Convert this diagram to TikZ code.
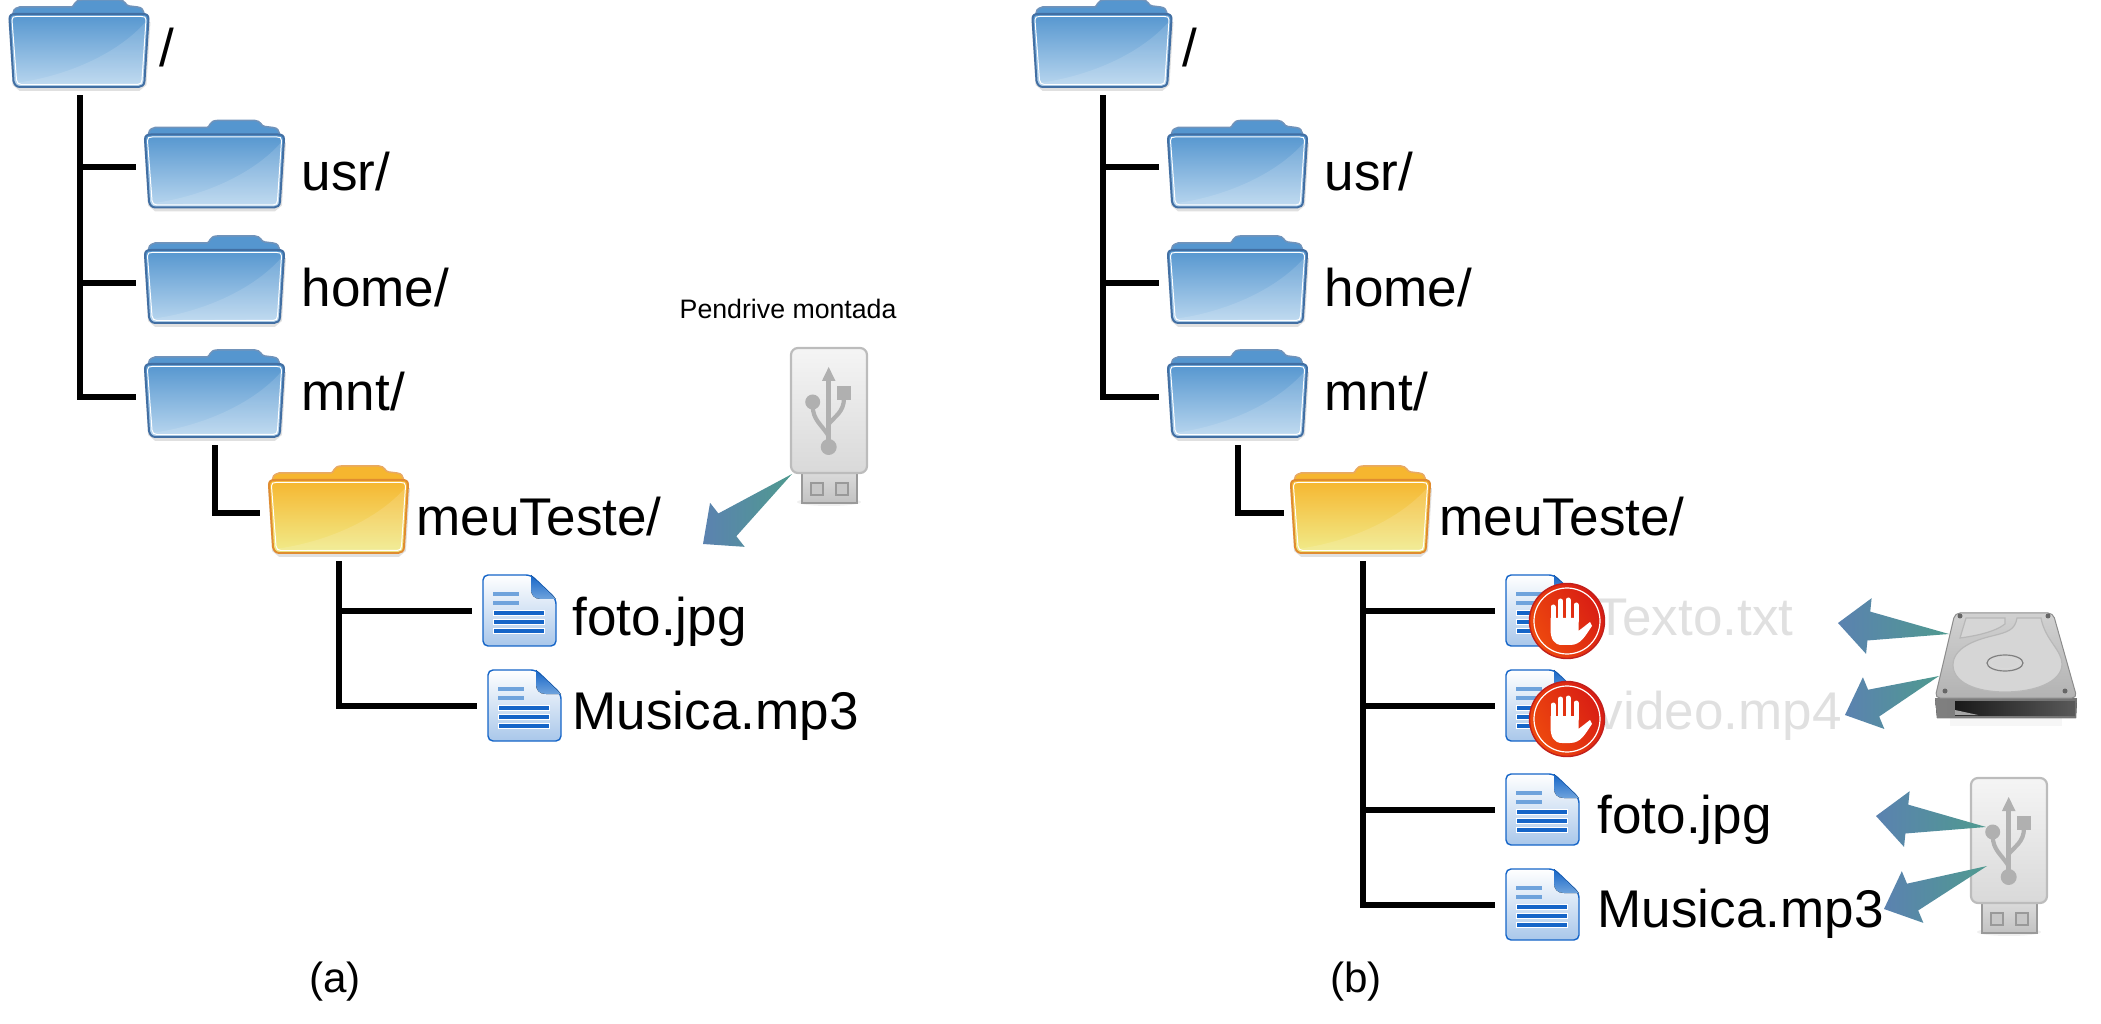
\documentclass[tikz,border=0pt]{standalone}
\usepackage{fontspec}
\usepackage{tikz}
\usepackage{color}
\usetikzlibrary{arrows}
\usetikzlibrary{calc}
\setmainfont{Liberation Sans}

\definecolor{blueedge}{HTML}{426FA3}
\definecolor{bluetop}{HTML}{5596CF}
\definecolor{bluebot}{HTML}{BAD7EF}
\definecolor{yellowedge}{HTML}{E08C30}
\definecolor{yellowtop}{HTML}{F6B62F}
\definecolor{yellowbot}{HTML}{F0EC8C}
\definecolor{fileblue}{HTML}{1565C8}
\definecolor{filepale}{HTML}{6FA3DC}
\definecolor{filebot}{HTML}{A9C7EA}
\definecolor{arrowtip}{HTML}{5B82B0}
\definecolor{arrowtail}{HTML}{4F9A8F}
\definecolor{usbgray}{HTML}{B0B0B0}
\definecolor{fadedtext}{HTML}{E0E0E0}
\definecolor{stopedge}{HTML}{C2201C}
\definecolor{stoplight}{HTML}{EE4A0E}
\definecolor{stopdark}{HTML}{D81C14}

\newcommand{\drawfolder}[3]{
	\begin{scope}[shift={(-70,-47)}]
		\draw [draw=#1!75!white, line width=0.15mm, fill=#2] (3,18) .. controls (4,9) .. (10,7) -- (62,7) .. controls (65,7) and (64,0) .. (72,0) -- (110,0) .. controls (116,0) and (116,6) .. (120,6) -- (128,7) .. controls (133,8) .. (136,18) -- cycle;
		\draw [black!12, line width=0.4mm] (1,22) -- (5,84) -- (11,89) -- (129,89) -- (135,84) -- (139,22);
		\draw [draw=#1, line width=0.2mm, top color=#2, bottom color=#3] (0,19) .. controls (0,15) and (2,14) .. (6,14) -- (133,14) .. controls (137,14) and (139,15) .. (139,19) -- (135,81) .. controls (135,85) and (132,87) .. (129,87) -- (11,87) .. controls (7,87) and (5,85) .. (4,81) -- cycle;
		\fill [white, opacity=0.13] (6,83) .. controls (60,76) and (110,52) .. (136,22) -- (133,84) -- cycle;
		\draw [white, line width=0.1mm] (2.5,20) .. controls (2.5,17) and (4,16.5) .. (7,16.5) -- (132,16.5) .. controls (135,16.5) and (136.5,17) .. (136.5,20) -- (132.5,80) .. controls (132.5,83) and (131,84.5) .. (128,84.5) -- (12,84.5) .. controls (9,84.5) and (7.5,83) .. (7,80) -- cycle;
	\end{scope}
}

\tikzset{
	foldersp/.style={inner sep=0pt, outer sep=0pt, minimum width=15.8mm, minimum height=9.7mm},
	filesp/.style={inner sep=0pt, outer sep=0pt, minimum width=9.2mm, minimum height=7.2mm},
	treeline/.style={line width=0.6mm, draw=black},
	bigtext/.style={anchor=base west, inner sep=0pt, font=\fontsize{15.1}{18}\selectfont},
	captext/.style={anchor=base, inner sep=0pt, font=\fontsize{12}{14}\selectfont},
	smalltext/.style={anchor=base west, inner sep=0pt, font=\fontsize{7.6}{9}\selectfont},
	fatarrow/.style={left color=arrowtip, right color=arrowtail, draw=none},
	bluefolder/.pic={\drawfolder{blueedge}{bluetop}{bluebot}},
	yellowfolder/.pic={\drawfolder{yellowedge}{yellowtop}{yellowbot}},
	fileicon/.pic={
		\begin{scope}[shift={(-35,-36)}]
			\draw [draw=fileblue, line width=0.14mm, top color=white, bottom color=filebot, rounded corners=0.5mm] (0,0) -- (48,0) -- (73,24) -- (73,71) -- (0,71) -- cycle;
			\fill [top color=fileblue, bottom color=filepale] (48,0) -- (73,24) -- (58,24) .. controls (51,24) and (48,20) .. (48,14) -- cycle;
			\foreach \ly in {19,28}
				\fill [filepale] (10,\ly-2.2) rectangle (36,\ly+2.2);
			\foreach \ly in {38,47,56}
				\draw [white, line width=0.06mm, fill=fileblue] (10,\ly-2.6) rectangle (61,\ly+2.6);
		\end{scope}
	},
	stopicon/.pic={
		\fill [draw=stopedge, line width=0.14mm, left color=stoplight, right color=stopdark, shading angle=120] (0,0) circle (37.5);
		\draw [white, line width=0.12mm] (0,0) circle (33);
		\draw [white, line width=0.5mm, line cap=round] (-14,0) -- (-14,-14);
		\draw [white, line width=0.5mm, line cap=round] (-6.5,0) -- (-6.5,-20);
		\draw [white, line width=0.5mm, line cap=round] (1,0) -- (1,-21);
		\draw [white, line width=0.5mm, line cap=round] (9,0) -- (9,-16);
		\fill [white] (-16.5,-3) -- (11.5,-3) -- (11.5,10) -- (23,1) -- (25,5) .. controls (18,15) and (14,24) .. (3,24) -- (-5,24) .. controls (-13,24) and (-16.5,18) .. (-16.5,8) -- cycle;
	},
	usbicon/.pic={
		\fill [black!10, opacity=0.6] (38,154) ellipse (32 and 4);
		\draw [draw=black!40, line width=0.22mm, top color=black!14, bottom color=black!24] (11,124) rectangle (66,155);
		\draw [draw=black!40, line width=0.18mm, fill=black!22] (20,135) rectangle (32,147);
		\draw [draw=black!40, line width=0.18mm, fill=black!22] (45,135) rectangle (57,147);
		\draw [draw=usbgray!85!white, line width=0.22mm, top color=black!4, bottom color=black!15, rounded corners=0.7mm] (0,0) rectangle (76,125);
		\draw [usbgray, line width=0.45mm] (37.7,30) -- (37.7,95);
		\fill [usbgray] (37.7,19) -- (44.5,33) -- (30.9,33) -- cycle;
		\fill [usbgray] (37.7,99) circle (8);
		\fill [usbgray] (21.7,54) circle (7.5);
		\fill [usbgray] (46,38) rectangle (60,52);
		\draw [usbgray, line width=0.42mm] (21.7,58) .. controls (22,72) and (30,76) .. (37.7,88);
		\draw [usbgray, line width=0.42mm] (53,50) .. controls (53,64) and (44,68) .. (37.7,76);
	}
}

\newcommand{\drawarrow}[2]{
	\path [fatarrow] (#1) -- ($(#2)!3.1mm!(#1)!1.45mm!90:(#1)$) -- ($(#2)!3.1mm!(#1)!2.8mm!90:(#1)$) -- (#2) -- ($(#2)!3.1mm!(#1)!2.8mm!-90:(#1)$) -- ($(#2)!3.1mm!(#1)!1.45mm!-90:(#1)$) -- cycle;
}

\begin{document}
\begin{tikzpicture}[x=0.1mm,y=-0.1mm]
	\useasboundingbox (0,0) rectangle (2101,1024);

	% left tree
	\node [foldersp] (rootA) at (79.5,47) {};
	\node [foldersp] (usrA) at (215,167.5) {};
	\node [foldersp] (homeA) at (215,283) {};
	\node [foldersp] (mntA) at (215,397) {};
	\node [foldersp] (testeA) at (339,513) {};
	\node [filesp] (fotoA) at (518,611) {};
	\node [filesp] (musicaA) at (523,706) {};

	\pic at (rootA) {bluefolder};
	\pic at (usrA) {bluefolder};
	\pic at (homeA) {bluefolder};
	\pic at (mntA) {bluefolder};
	\pic at (testeA) {yellowfolder};
	\pic at (fotoA) {fileicon};
	\pic at (musicaA) {fileicon};

	\draw [treeline] (rootA.south) |- (usrA.west);
	\draw [treeline] (rootA.south) |- (homeA.west);
	\draw [treeline] (rootA.south) |- (mntA.west);
	\draw [treeline] (mntA.south) |- (testeA.west);
	\draw [treeline] (testeA.south) |- (fotoA.west);
	\draw [treeline] (testeA.south) |- (musicaA.west);

	\node [bigtext] (rootAtxt) at (159,67) {/};
	\node [bigtext] (usrAtxt) at (301,191) {usr/};
	\node [bigtext] (homeAtxt) at (301,306.5) {home/};
	\node [bigtext] (mntAtxt) at (301,410.5) {mnt/};
	\node [bigtext] (testeAtxt) at (416,535.5) {meuTeste/};
	\node [bigtext] (fotoAtxt) at (572,635.5) {foto.jpg};
	\node [bigtext] (musicaAtxt) at (572,729.5) {Musica.mp3};
	\node [captext] (capA) at (335,992.5) {(a)};
	\node [smalltext] (penTxt) at (679,319) {Pendrive montada};

	\pic at (791,348) {usbicon};
	\coordinate (penTail) at (792,474);
	\coordinate (penTip) at (703,544);
	\drawarrow{penTail}{penTip}

	% right tree
	\node [foldersp] (rootB) at (1102.5,47) {};
	\node [foldersp] (usrB) at (1238,167.5) {};
	\node [foldersp] (homeB) at (1238,283) {};
	\node [foldersp] (mntB) at (1238,397) {};
	\node [foldersp] (testeB) at (1363,513) {};
	\node [filesp] (textoB) at (1541,611) {};
	\node [filesp] (videoB) at (1541,706) {};
	\node [filesp] (fotoB) at (1541,810) {};
	\node [filesp] (musicaB) at (1541,905) {};

	\pic at (rootB) {bluefolder};
	\pic at (usrB) {bluefolder};
	\pic at (homeB) {bluefolder};
	\pic at (mntB) {bluefolder};
	\pic at ([xshift=-0.2mm]testeB) {yellowfolder};
	\pic at (textoB) {fileicon};
	\pic at (videoB) {fileicon};
	\pic at (fotoB) {fileicon};
	\pic at (musicaB) {fileicon};

	\draw [treeline] (rootB.south) |- (usrB.west);
	\draw [treeline] (rootB.south) |- (homeB.west);
	\draw [treeline] (rootB.south) |- (mntB.west);
	\draw [treeline] (mntB.south) |- (testeB.west);
	\draw [treeline] (testeB.south) |- (textoB.west);
	\draw [treeline] (testeB.south) |- (videoB.west);
	\draw [treeline] (testeB.south) |- (fotoB.west);
	\draw [treeline] (testeB.south) |- (musicaB.west);

	\node [bigtext] (rootBtxt) at (1182,67) {/};
	\node [bigtext] (usrBtxt) at (1324,191) {usr/};
	\node [bigtext] (homeBtxt) at (1324,306.5) {home/};
	\node [bigtext] (mntBtxt) at (1324,410.5) {mnt/};
	\node [bigtext] (testeBtxt) at (1439,535.5) {meuTeste/};
	\node [bigtext, text=fadedtext] (textoBtxt) at (1595,635.5) {Texto.txt};
	\node [bigtext, text=fadedtext] (videoBtxt) at (1596,729.5) {video.mp4};
	\node [bigtext] (fotoBtxt) at (1597,833.5) {foto.jpg};
	\node [bigtext] (musicaBtxt) at (1597,927.5) {Musica.mp3};
	\node [captext] (capB) at (1356,992.5) {(b)};

	\pic at (1567,621) {stopicon};
	\pic at (1567,719) {stopicon};

	% hard disk
	\fill [black!6, opacity=0.6] (1950,716) rectangle (2062,726);
	\fill [left color=black!50, right color=black!55] (1935,698) -- (2077,698) -- (2076,718) -- (1937,718) -- cycle;
	\fill [left color=black!90, middle color=black!50, right color=black!65] (1955,701) rectangle (2075,715);
	\fill [black!35] (1955,710) -- (1978,715) -- (1955,715) -- cycle;
	\draw [black!45, line width=0.1mm, top color=black!18, bottom color=black!30, line join=round, rounded corners=0.5mm] (1955,613) -- (2053,613) -- (2077,698) -- (1935,698) -- cycle;
	\draw [white!72!black, line width=0.12mm, fill=black!16] (2017,618) -- (2041,618) .. controls (2045,640) and (2062,650) .. (2062,664) .. controls (2062,682) and (2035,692) .. (2005,692) .. controls (1975,692) and (1953,682) .. (1953,665) .. controls (1953,648) and (1975,640) .. (1992,636) .. controls (2008,632) and (2015,630) .. (2017,618) -- cycle;
	\draw [white!72!black, line width=0.12mm, fill=black!16] (1966,618) -- (2005,618) -- (2005,624) .. controls (1995,632) and (1975,636) .. (1960,638) -- cycle;
	\draw [black!50, line width=0.12mm] (2005,663) ellipse (18 and 8);
	\draw [white!85!black, line width=0.1mm] (2005,663) ellipse (14 and 5.5);
	\fill [black!60] (1960,616) circle (2.5);
	\fill [black!60] (2048,616) circle (2.5);
	\fill [black!60] (1945,691) circle (2.5);
	\fill [black!60] (2065,691) circle (2.5);

	\coordinate (hdTailA) at (1949,634);
	\coordinate (hdTipA) at (1838,623);
	\coordinate (hdTailB) at (1939,676);
	\coordinate (hdTipB) at (1845,715);
	\drawarrow{hdTailA}{hdTipA}
	\drawarrow{hdTailB}{hdTipB}

	% pendrive on the right
	\pic at (1971,778) {usbicon};
	\coordinate (usbTailA) at (1986,827);
	\coordinate (usbTipA) at (1876,816);
	\coordinate (usbTailB) at (1987,866);
	\coordinate (usbTipB) at (1884,909);
	\drawarrow{usbTailA}{usbTipA}
	\drawarrow{usbTailB}{usbTipB}
\end{tikzpicture}
\end{document}
